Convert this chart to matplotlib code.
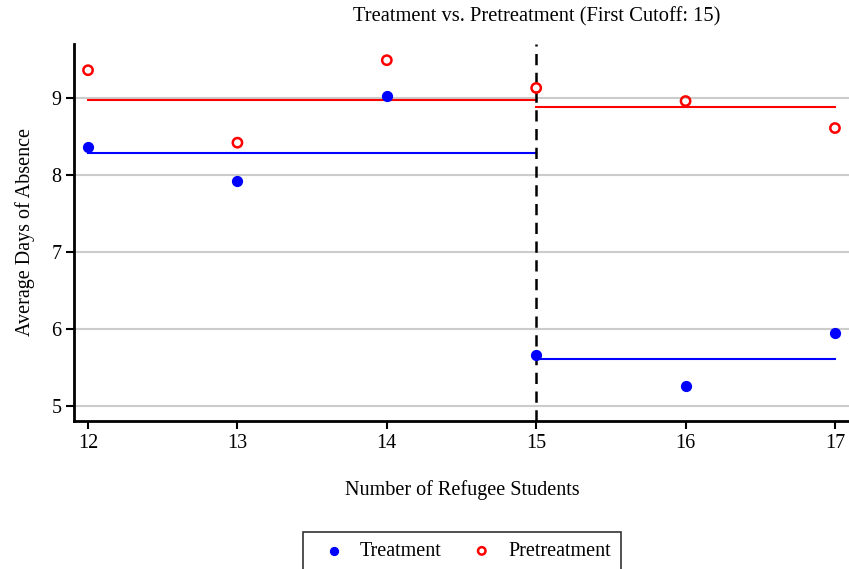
import matplotlib
matplotlib.use("Agg")
import matplotlib.pyplot as plt

# Data
students = [12, 13, 14, 15, 16, 17]
treatment = [8.36, 7.92, 9.03, 5.66, 5.26, 5.95]
pretreatment = [9.36, 8.42, 9.49, 9.13, 8.96, 8.61]

# Fitted levels on each side of the cutoff
cutoff = 15
left_range = [12, 15]
right_range = [15, 17]
treat_fit = [8.29, 5.61]
pre_fit = [8.97, 8.88]

plt.rcParams['font.family'] = ['Liberation Serif', 'DejaVu Serif']

fig = plt.figure(figsize=(8.49, 5.69), dpi=100)
ax = fig.add_axes([74/849, 1 - 421/569, (849 - 74)/849, (421 - 44)/569])

ax.grid(axis='y', color='#cccccc', linewidth=1.5, zorder=0)
ax.set_axisbelow(True)

ax.plot(left_range, [pre_fit[0]] * 2, color='red', linewidth=1.5, zorder=2)
ax.plot(right_range, [pre_fit[1]] * 2, color='red', linewidth=1.5, zorder=2)
ax.plot(left_range, [treat_fit[0]] * 2, color='blue', linewidth=1.5, zorder=2)
ax.plot(right_range, [treat_fit[1]] * 2, color='blue', linewidth=1.5, zorder=2)

ax.axvline(cutoff, color='black', linestyle=(0, (4.5, 3)), linewidth=1.8, zorder=3)

ax.scatter(students, treatment, s=50, color='blue', label='Treatment', zorder=4)
ax.scatter(students, pretreatment, s=45, facecolors='none', edgecolors='red',
           linewidths=1.8, label='Pretreatment', zorder=4)

ax.set_xlim(11.906, 17.094)
ax.set_ylim(4.81, 9.70)
ax.set_xticks(students)
ax.set_yticks([5, 6, 7, 8, 9])

for s in ['top', 'right']:
    ax.spines[s].set_visible(False)
for s in ['left', 'bottom']:
    ax.spines[s].set_linewidth(2)
ax.tick_params(axis='both', direction='out', length=6, width=1.5, labelsize=14.5, pad=3)

ax.set_ylabel('Average Days of Absence', fontsize=14.5, labelpad=12)
fig.text(462/849, 1 - 490/569, 'Number of Refugee Students', fontsize=14.5,
         ha='center', va='center')
fig.text(537/849, 1 - 17/569, 'Treatment vs. Pretreatment (First Cutoff: 15)',
         fontsize=14.8, ha='center', va='center')

leg = fig.legend(loc='upper center', bbox_to_anchor=(462/849, 1 - 532/569),
                 ncol=2, fontsize=14.5, frameon=True, fancybox=False,
                 edgecolor='black', handletextpad=0.3, columnspacing=1.0,
                 borderpad=0.5, borderaxespad=0, markerscale=0.8)
leg.get_frame().set_linewidth(1.2)

fig.savefig('out.png', dpi=100)
